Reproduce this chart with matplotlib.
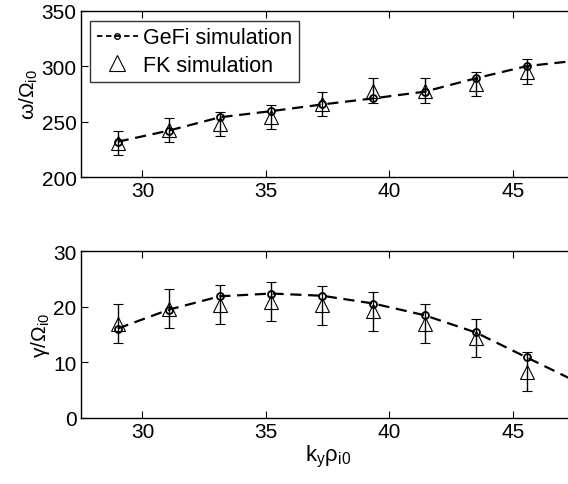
import matplotlib
matplotlib.use("Agg")
import matplotlib.pyplot as plt
from matplotlib.lines import Line2D

plt.rcParams['font.family'] = ['Liberation Sans', 'DejaVu Sans']
plt.rcParams['mathtext.default'] = 'regular'

# data
ky = [29.0, 31.07, 33.14, 35.21, 37.28, 39.35, 41.42, 43.49, 45.56, 47.63]
gefi_omega = [232, 242, 254, 259.5, 265.5, 271, 277, 289, 300, 305]
gefi_gamma = [16.1, 19.5, 21.9, 22.4, 22.0, 20.6, 18.5, 15.4, 10.9, 6.4]
ky_fk = [29.0, 31.07, 33.14, 35.21, 37.28, 39.35, 41.42, 43.49, 45.56]
fk_omega = [230.7, 242.4, 248.0, 254.0, 266.1, 277.9, 277.9, 283.9, 295.0]
fk_omega_err = [11, 11, 11, 11, 11, 11, 11, 11, 11]
fk_gamma = [17.0, 19.7, 20.4, 20.9, 20.3, 19.2, 17.0, 14.4, 8.3]
fk_gamma_err = [3.5, 3.5, 3.5, 3.5, 3.5, 3.5, 3.5, 3.5, 3.5]
xticks = [30, 35, 40, 45]

fig = plt.figure(figsize=(5.68, 4.85), dpi=100)
W, H = 568, 485
left = 80.7 / W
width = 494 / W
ax1 = fig.add_axes([left, 1 - 178.3 / H, width, (178.3 - 11.5) / H])
ax2 = fig.add_axes([left, 1 - 419 / H, width, (419 - 252.3) / H])

fs = 15
for ax, gefi, fk, err, ylim, yt, ylab in [
    (ax1, gefi_omega, fk_omega, fk_omega_err, (200, 350), [200, 250, 300, 350], r'$ω/Ω_{i0}$'),
    (ax2, gefi_gamma, fk_gamma, fk_gamma_err, (0, 30), [0, 10, 20, 30], r'$γ/Ω_{i0}$'),
]:
    ax.errorbar(ky_fk, fk, yerr=err, fmt='^', ms=10, mfc='none', mec='black',
                mew=0.8, ecolor='black', elinewidth=1, capsize=3.5, capthick=1, zorder=2)
    ax.plot(ky, gefi, linestyle=(0, (5, 3)), color='black', lw=1.6,
            marker='o', ms=5, mfc='none', mec='black', mew=1.3, zorder=3)
    ax.set_xlim(27.5, 47.5)
    ax.set_ylim(*ylim)
    ax.set_xticks(xticks)
    ax.set_yticks(yt)
    ax.tick_params(direction='in', top=True, right=True, length=5, width=0.8,
                   labelsize=fs, pad=3)
    for s in ax.spines.values():
        s.set_linewidth(1)
    ax.set_ylabel(ylab, fontsize=15, labelpad=1)

ax2.set_xlabel(r'$k_{y}ρ_{i0}$', fontsize=16, labelpad=1)

handles = [
    Line2D([], [], linestyle=(0, (3, 2)), color='black', lw=1.3, marker='o', ms=4,
           mfc='none', mec='black'),
    Line2D([], [], linestyle='none', marker='^', ms=11, mfc='none', mec='black', mew=0.8),
]
leg = ax1.legend(handles, ['GeFi simulation', 'FK simulation'], loc='upper left',
                 bbox_to_anchor=(0.0196, 0.939), borderaxespad=0, fontsize=15.5,
                 frameon=True, fancybox=False, edgecolor='black', handlelength=1.9,
                 handletextpad=0.25, labelspacing=0.3, borderpad=0.3)
leg.get_frame().set_linewidth(1)

fig.savefig('out.png', dpi=100)
